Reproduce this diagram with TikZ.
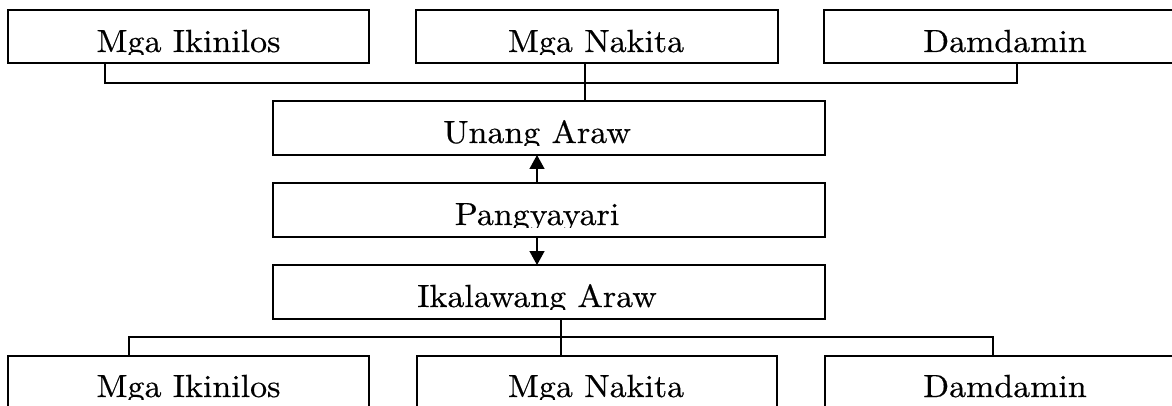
\documentclass[tikz,border=0pt]{standalone}
\usepackage{fontspec}
\newfontfamily\cent{lmroman10-regular}[Extension=.otf, FakeBold=0.5, FakeStretch=1.06]
\usetikzlibrary{arrows.meta}
\tikzset{
  box/.style={draw, line width=1.6pt, rectangle, inner sep=0pt, outer sep=0pt},
  conn/.style={line width=1.4pt},
  arr/.style={line width=1.4pt, -{Triangle[length=14pt,width=15pt]}},
  lbl/.style={inner sep=0pt, anchor=base, font=\cent\fontsize{32}{38}\selectfont}
}
\newcommand\boxtext[4]{%
  \begin{scope}
    \clip (#2-260,#3-45) rectangle (#2+260,#3+2.5);
    \node[lbl] (#1) at (#2,#3) {#4};
  \end{scope}}
\begin{document}
\begin{tikzpicture}[x=1pt,y=-1pt]
\useasboundingbox (0,0) rectangle (1172,406);
\clip (0,0) rectangle (1172,406);
% top row
\node[box, minimum width=361pt, minimum height=53pt] (T1) at (188.5,36.5) {};
\node[box, minimum width=362pt, minimum height=53pt] (T2) at (597,36.5) {};
\node[box, minimum width=361pt, minimum height=53pt] (T3) at (1004.5,36.5) {};
% middle column
\node[box, minimum width=552pt, minimum height=54pt] (U) at (549,128) {};
\node[box, minimum width=552pt, minimum height=54pt] (P) at (549,210) {};
\node[box, minimum width=552pt, minimum height=54pt] (I) at (549,292) {};
% bottom row
\node[box, minimum width=361pt, minimum height=53pt] (B1) at (188.5,382.5) {};
\node[box, minimum width=360pt, minimum height=53pt] (B2) at (597,382.5) {};
\node[box, minimum width=361pt, minimum height=53pt] (B3) at (1005.5,382.5) {};
% labels
\boxtext{tT1}{188.5}{52}{Mga Ikinilos}
\boxtext{tT2}{596}{52}{Mga Nakita}
\boxtext{tT3}{1005}{52}{Damdamin}
\boxtext{tU}{537}{143}{Unang Araw}
\boxtext{tP}{537}{225}{Pangyayari}
\boxtext{tI}{537}{307}{Ikalawang Araw}
\boxtext{tB1}{188.5}{397}{Mga Ikinilos}
\boxtext{tB2}{596}{397}{Mga Nakita}
\boxtext{tB3}{1005}{397}{Damdamin}
% top connectors
\coordinate (ja) at (105,83);
\coordinate (jb) at (1017,83);
\coordinate (jm) at (585,83);
\draw[conn] (ja |- T1.south) -- (ja) -- (jb) -- (jb |- T3.south);
\draw[conn] (jm |- T2.south) -- (jm |- U.north);
% bottom connectors
\coordinate (ka) at (129,337);
\coordinate (kb) at (993,337);
\coordinate (km) at (561,337);
\draw[conn] (km |- I.south) -- (km |- B2.north);
\draw[conn] (ka |- B1.north) -- (ka) -- (kb) -- (kb |- B3.north);
% arrows
\coordinate (ax) at (537,0);
\draw[arr] (ax |- P.north) -- (ax |- U.south);
\draw[arr] (ax |- P.south) -- (ax |- I.north);
\end{tikzpicture}
\end{document}
